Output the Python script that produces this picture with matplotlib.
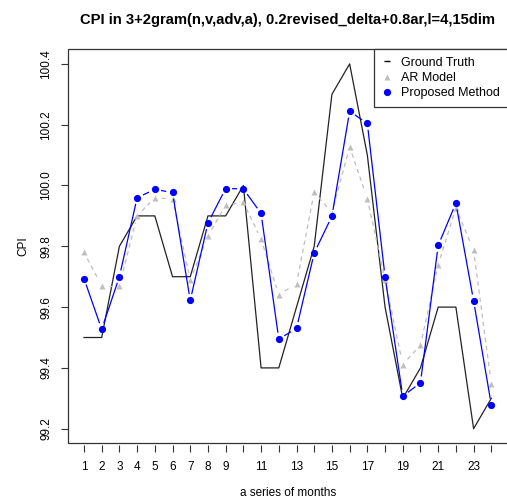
import numpy as np
import matplotlib
matplotlib.use("Agg")
import matplotlib.pyplot as plt
from matplotlib.lines import Line2D
from matplotlib.patches import Rectangle

plt.rcParams['font.family'] = ['Liberation Sans', 'DejaVu Sans']

months = np.arange(1, 25)
ground_truth = [99.5, 99.5, 99.8, 99.9, 99.9, 99.7, 99.7, 99.9, 99.9, 100.0,
                99.4, 99.4, 99.6, 99.8, 100.3, 100.4, 100.1, 99.6, 99.3, 99.4,
                99.6, 99.6, 99.2, 99.3]
ar_model = [99.78, 99.67, 99.67, 99.90, 99.96, 99.955, 99.69, 99.835, 99.935, 99.945,
            99.823, 99.641, 99.677, 99.978, 99.91, 100.127, 99.956, 99.69, 99.411, 99.475,
            99.739, 99.926, 99.787, 99.348]
proposed = [99.694, 99.527, 99.70, 99.96, 99.987, 99.977, 99.622, 99.877, 99.99, 99.989,
            99.908, 99.495, 99.53, 99.778, 99.899, 100.244, 100.204, 99.70, 99.307, 99.351,
            99.803, 99.942, 99.621, 99.278]
xtick_labels = ['1', '2', '3', '4', '5', '6', '7', '8', '9', '', '11', '', '13', '',
                '15', '', '17', '', '19', '', '21', '', '23', '']
yticks = [99.2, 99.4, 99.6, 99.8, 100.0, 100.2, 100.4]

W, H = 507, 501
fig = plt.figure(figsize=(W / 100, H / 100), dpi=100)
ax = fig.add_axes([67.7 / W, 1 - 443.3 / H, (507.6 - 67.7) / W, (443.3 - 49.3) / H])

# R style limits: data range extended by 4% each side
xr = months.max() - months.min()
ax.set_xlim(months.min() - 0.04 * xr, months.max() + 0.04 * xr)
lo = min(min(ground_truth), min(ar_model), min(proposed))
hi = max(max(ground_truth), max(ar_model), max(proposed))
ax.set_ylim(lo - 0.04 * (hi - lo), hi + 0.04 * (hi - lo))


def gapped(x, y, gap_px, **kw):
    # lines like R type="b": segments stop short of the points
    pts = ax.transData.transform(np.column_stack([x, y]))
    inv = ax.transData.inverted()
    for p0, p1 in zip(pts[:-1], pts[1:]):
        d = p1 - p0
        L = np.hypot(*d)
        if L <= 2 * gap_px:
            continue
        seg = inv.transform([p0 + d * gap_px / L, p1 - d * gap_px / L])
        ax.plot(seg[:, 0], seg[:, 1], **kw)


ax.plot(months, ground_truth, color='#222222', lw=0.9)
gapped(months, ar_model, 7, color='#bebebe', lw=0.9, dashes=(3.5, 3))
ax.plot(months, ar_model, '^', color='#bebebe', ms=5, mec='none', ls='none')
gapped(months, proposed, 7, color='#0000ff', lw=0.9)
ax.plot(months, proposed, 'o', color='#0000ff', ms=5.2, mec='none', ls='none')

for s in ax.spines.values():
    s.set_visible(False)
ax.spines['bottom'].set_position(('outward', 1.5))
ax.add_patch(Rectangle((0, 0), 1, 1, transform=ax.transAxes, fill=False,
                       edgecolor='#333333', lw=0.9, clip_on=False, zorder=5))

ax.set_xticks(months)
ax.set_xticklabels(xtick_labels)
ax.set_yticks(yticks)
ax.set_yticklabels(['%.1f' % v for v in yticks], rotation=90, va='center')
ax.tick_params(axis='both', length=5, width=0.8, color='#333333', labelsize=8.5, pad=6)

ax.set_title('CPI in 3+2gram(n,v,adv,a), 0.2revised_delta+0.8ar,l=4,15dim',
             fontsize=10.6, fontweight='bold', pad=18)
ax.set_ylabel('CPI', fontsize=8.5)
ax.yaxis.set_label_coords(-0.088, 0.5)
ax.set_xlabel('a series of months', fontsize=8.5)
ax.xaxis.set_label_coords(0.5, -0.112)

handles = [Line2D([], [], color='black', marker='_', ls='none', ms=5, mew=1),
           Line2D([], [], color='#bebebe', marker='^', ls='none', ms=5, mec='none'),
           Line2D([], [], color='#0000ff', marker='o', ls='none', ms=5.2, mec='none')]
leg = ax.legend(handles, ['Ground Truth', 'AR Model', 'Proposed Method'], loc='upper right',
                borderaxespad=0, fancybox=False, edgecolor='#333333', fontsize=9,
                handlelength=1.0, handletextpad=0.6, labelspacing=0.25, borderpad=0.6,
                framealpha=1)
leg.get_frame().set_linewidth(0.9)

fig.savefig('out.png', dpi=100)
